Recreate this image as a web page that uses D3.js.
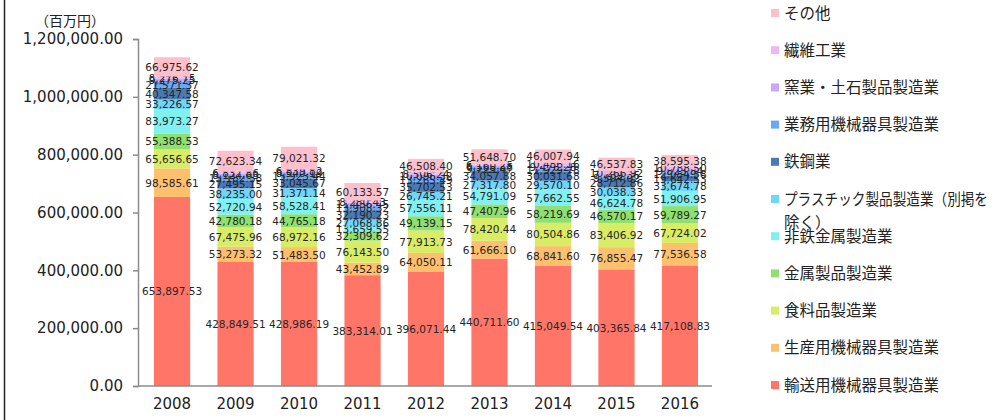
<!DOCTYPE html>
<html>
<head>
<meta charset="utf-8">
<script src="https://cdn.jsdelivr.net/npm/d3@7"></script>
<style>
body { margin: 0; background: #fff; }
svg { display: block; }
</style>
</head>
<body>
<div id="chart"></div>
<script>
var width = 1005;
var height = 420;

var years = ["2008", "2009", "2010", "2011", "2012", "2013", "2014", "2015", "2016"];
var yTicks = [0, 200000, 400000, 600000, 800000, 1000000, 1200000];

// series, bottom of the stack first
var transport  = [653897.53, 428849.51, 428986.19, 383314.01, 396071.44, 440711.60, 415049.54, 403365.84, 417108.83];
var production = [98585.61, 53273.32, 51483.50, 43452.89, 64050.11, 61666.10, 68841.60, 76855.47, 77536.58];
var food       = [65656.65, 67475.96, 68972.16, 76143.50, 77913.73, 78420.44, 80504.86, 83406.92, 67724.02];
var metalProd  = [55388.53, 42780.18, 44765.18, 32309.62, 49139.15, 47407.96, 58219.69, 46570.17, 59789.27];
var nonFerrous = [83973.27, 52720.94, 58528.41, 13659.55, 57556.11, 54791.09, 57662.55, 46624.78, 51906.95];
var plastic    = [33226.57, 38235.00, 31371.14, 27068.86, 26745.21, 27317.80, 29570.10, 30038.33, 33674.78];
var steel      = [40347.58, 27495.15, 33045.67, 32190.23, 35702.53, 34057.88, 30031.68, 28712.86, 19642.53];
var business   = [21571.37, 15182.38, 15923.44, 13908.32, 13265.49, 9725.47, 11929.78, 9504.02, 12084.58];
var ceramic    = [9275.25, 8124.63, 8540.19, 11456.45, 10096.32, 6568.86, 9476.28, 7769.36, 9823.84];
var textile    = [8276.75, 6837.86, 6839.82, 8280.43, 8506.24, 6160.25, 10486.16, 10266.92, 10788.50];
var other      = [66975.62, 72623.34, 79021.32, 60133.57, 46508.40, 51648.70, 46007.94, 46537.83, 38595.38];

var seriesNames = ["輸送用機械器具製造業", "生産用機械器具製造業", "食料品製造業", "金属製品製造業",
    "非鉄金属製造業", "プラスチック製品製造業（別掲を除く）", "鉄鋼業", "業務用機械器具製造業",
    "窯業・土石製品製造業", "繊維工業", "その他"];
var seriesValues = [transport, production, food, metalProd, nonFerrous, plastic, steel, business, ceramic, textile, other];
var colors = ["#ff7568", "#ffc06e", "#d9ec66", "#8fe070", "#80f0f0", "#70d6f8", "#4a7ab4", "#68a8f8", "#c8a8f8", "#ecb8f2", "#fdc0cc"];

var table = years.map(function(y, i) {
    var row = { year: y };
    seriesNames.forEach(function(n, k) { row[n] = seriesValues[k][i]; });
    return row;
});
var stacked = d3.stack().keys(seriesNames)(table);

var svg = d3.select("#chart")
    .append("svg")
    .attr("width", width)
    .attr("height", height);

// frame edge on the left
svg.append("line")
    .attr("x1", 4.5).attr("x2", 4.5)
    .attr("y1", 0).attr("y2", height)
    .attr("stroke", "#222")
    .attr("stroke-width", 1.5);

var x = d3.scaleBand()
    .domain(years)
    .range([140, 712])
    .paddingInner(0.43)
    .paddingOuter(0.22);

var y = d3.scaleLinear()
    .domain([0, 1200000])
    .range([386, 39]);

var yAxis = svg.append("g")
    .attr("transform", "translate(138,0)")
    .call(d3.axisLeft(y).tickValues(yTicks).tickFormat(d3.format(",.2f")).tickSizeOuter(0).tickSize(5).tickPadding(10));
yAxis.select(".domain").attr("stroke", "#8c8c8c").attr("stroke-width", 1.5);
yAxis.selectAll(".tick line").attr("stroke", "#8c8c8c").attr("stroke-width", 1.5);
yAxis.selectAll("text")
    .attr("fill", "#222")
    .style("font-family", "DejaVu Sans, Verdana, sans-serif")
    .style("font-size", "15px");

svg.append("text")
    .attr("x", 70).attr("y", 26)
    .attr("text-anchor", "middle")
    .attr("fill", "#222")
    .style("font-family", "Noto Sans CJK JP, sans-serif")
    .style("font-size", "14px")
    .text("（百万円）");

var layers = svg.selectAll("g.layer")
    .data(stacked)
    .enter()
    .append("g")
    .attr("class", "layer")
    .attr("fill", function(d, i) { return colors[i]; });

layers.selectAll("rect")
    .data(function(d) { return d; })
    .enter()
    .append("rect")
    .attr("x", function(d) { return x(d.data.year); })
    .attr("width", x.bandwidth())
    .attr("y", function(d) { return y(d[1]); })
    .attr("height", function(d) { return y(d[0]) - y(d[1]); });

var xAxis = svg.append("g")
    .attr("transform", "translate(0,386)")
    .call(d3.axisBottom(x).tickSize(0).tickPadding(12));
xAxis.select(".domain").attr("stroke", "#8c8c8c").attr("stroke-width", 1.5).attr("d", "M138,0H712");
xAxis.selectAll("text")
    .attr("fill", "#222")
    .style("font-family", "DejaVu Sans, Verdana, sans-serif")
    .style("font-size", "15px");

// value labels
var fmt = d3.format(",.2f");
layers.selectAll("text")
    .data(function(d) { return d; })
    .enter()
    .append("text")
    .attr("x", function(d) { return x(d.data.year) + x.bandwidth() / 2; })
    .attr("y", function(d) { return (y(d[0]) + y(d[1])) / 2 + 4; })
    .attr("text-anchor", "middle")
    .attr("fill", "#262626")
    .style("font-family", "DejaVu Sans, Verdana, sans-serif")
    .style("font-size", "10.5px")
    .text(function(d) { return fmt(d[1] - d[0]); });

// legend, top entry is the top of the stack
var legendNames = seriesNames.slice().reverse();
var legendColors = colors.slice().reverse();
var legend = svg.selectAll("g.legend")
    .data(legendNames)
    .enter()
    .append("g")
    .attr("class", "legend")
    .attr("transform", function(d, i) { return "translate(771," + (13 + i * 37.2) + ")"; });

legend.append("rect")
    .attr("x", 0).attr("y", -4)
    .attr("width", 8).attr("height", 8)
    .attr("fill", function(d, i) { return legendColors[i]; });

legend.append("text")
    .attr("x", 13).attr("y", 5.5)
    .attr("fill", "#222")
    .style("font-family", "Noto Sans CJK JP, sans-serif")
    .style("font-size", "15.5px")
    .each(function(d) {
        var t = d3.select(this);
        if (d.length > 15) {
            t.append("tspan").attr("x", 13)
                .attr("textLength", 204).attr("lengthAdjust", "spacingAndGlyphs")
                .text(d.slice(0, 15));
            t.append("tspan").attr("x", 13).attr("dy", 23).text(d.slice(15));
        } else {
            t.text(d);
        }
    });
</script>
</body>
</html>
